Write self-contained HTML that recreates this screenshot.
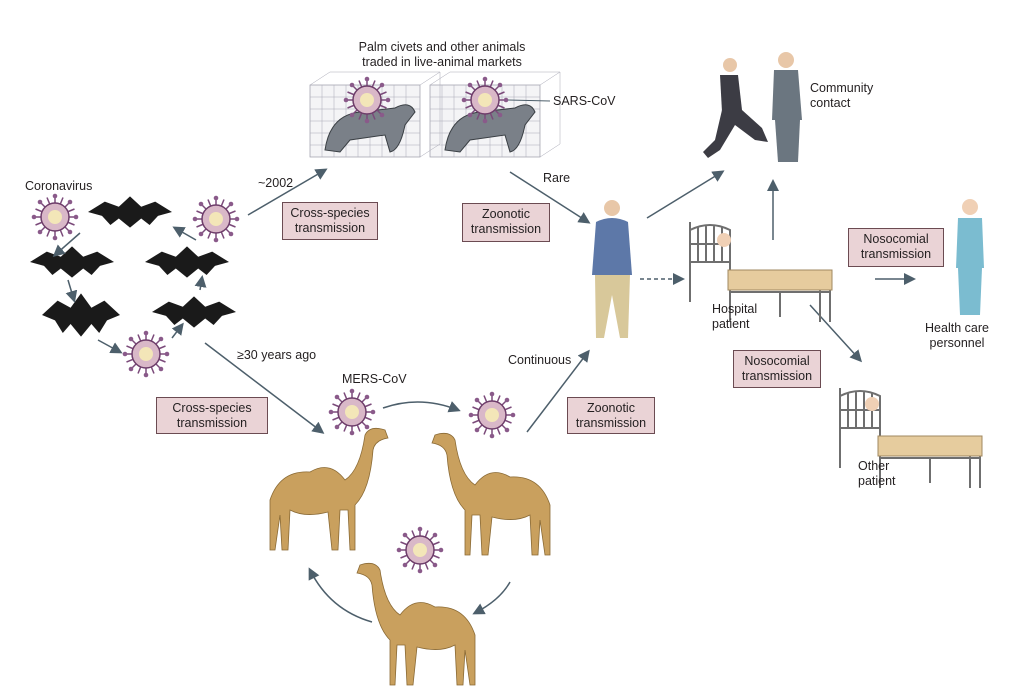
<!DOCTYPE html>
<html><head><meta charset="utf-8"><style>
html,body{margin:0;padding:0;background:#fff;}
body{width:1024px;height:698px;position:relative;overflow:hidden;font-family:"Liberation Sans",sans-serif;color:#231f20;}
.t{position:absolute;font-size:12.5px;line-height:15px;}
.b{position:absolute;background:#ead3d6;border:1px solid #6b4b52;font-size:12.5px;line-height:15px;text-align:center;box-sizing:border-box;padding-top:3px;}
svg{position:absolute;left:0;top:0;}
</style></head><body>
<svg width="1024" height="698" viewBox="0 0 1024 698">
<defs>
<marker id="a" markerWidth="8" markerHeight="8" refX="6" refY="4" orient="auto"><path d="M0,0 L8,4 L0,8 Z" fill="#4d5f6b"/></marker>
<g id="v">
<g stroke="#7b4a7a" stroke-width="1.5">
<line x1="0" y1="-21" x2="0" y2="21"/><line x1="-21" y1="0" x2="21" y2="0"/>
<line x1="-15" y1="-15" x2="15" y2="15"/><line x1="-15" y1="15" x2="15" y2="-15"/>
<line x1="-8" y1="-19.5" x2="8" y2="19.5"/><line x1="8" y1="-19.5" x2="-8" y2="19.5"/>
<line x1="-19.5" y1="-8" x2="19.5" y2="8"/><line x1="-19.5" y1="8" x2="19.5" y2="-8"/>
</g>
<g fill="#8a5a8a"><circle cx="0" cy="-21" r="2.3"/><circle cx="0" cy="21" r="2.3"/><circle cx="-21" cy="0" r="2.3"/><circle cx="21" cy="0" r="2.3"/><circle cx="15" cy="15" r="2.3"/><circle cx="-15" cy="-15" r="2.3"/><circle cx="15" cy="-15" r="2.3"/><circle cx="-15" cy="15" r="2.3"/></g>
<circle r="14" fill="#d9b8c8" stroke="#6d3d6a" stroke-width="1.5"/>
<circle r="7" fill="#f3e6b8"/>
</g>
<path id="bat" d="M0,0 L12,-8 L22,-4 L30,-12 L38,-4 L48,-8 L60,0 L50,3 L44,10 L38,5 L30,12 L22,5 L16,10 L10,3 Z" fill="#1a1a1a"/>
<g id="camel" fill="#c9a05e" stroke="#8a6a35" stroke-width="0.8">
<path d="M0,40 Q10,10 40,12 Q60,0 75,20 Q90,10 95,-25 Q100,-35 115,-30 L118,-22 Q105,-20 103,-10 Q100,30 85,45 L85,90 L80,90 L78,50 L70,50 L68,90 L62,90 L58,52 Q35,58 20,50 L18,90 L12,90 L10,55 L5,90 L0,90 Z"/>
</g>
<g id="bed">
<g fill="none" stroke="#6f6f6f" stroke-width="2">
<path d="M0,0 L0,80 M0,8 Q20,-2 40,8 L40,80 M0,22 L40,22 M0,40 L40,40 M8,5 L8,40 M16,3 L16,40 M24,3 L24,40 M32,5 L32,40"/>
<path d="M40,70 L140,70 M140,55 L140,100 M130,60 L130,100 M40,70 L40,100 M90,70 L90,95"/>
</g>
<rect x="38" y="48" width="104" height="20" fill="#e6cc9e" stroke="#a08860"/>
</g>
</defs>

<!-- cages -->
<g stroke="#9a9aa8" stroke-width="0.7" fill="#f4f4f6">
<rect x="310" y="85" width="110" height="72"/><rect x="430" y="85" width="110" height="72"/>
</g>
<g stroke="#a8a8b5" stroke-width="0.5" fill="none">
<path d="M310,85 L330,72 L440,72 L420,85 M430,85 L450,72 L560,72 L540,85 M420,157 L440,144 L440,72 M540,157 L560,144 L560,72"/>
<path d="M310,97H420M310,109H420M310,121H420M310,133H420M310,145H420M430,97H540M430,109H540M430,121H540M430,133H540M430,145H540"/>
<path d="M322,85V157M334,85V157M346,85V157M358,85V157M370,85V157M382,85V157M394,85V157M406,85V157M442,85V157M454,85V157M466,85V157M478,85V157M490,85V157M502,85V157M514,85V157M526,85V157"/>
</g>
<path d="M325,150 Q330,115 360,112 L395,108 Q410,100 415,112 L405,125 Q400,150 390,152 L385,135 L350,140 L340,152 Z" fill="#7a8088" stroke="#3a3f44"/>
<path d="M445,150 Q450,115 480,112 L515,108 Q530,100 535,112 L525,125 Q520,150 510,152 L505,135 L470,140 L460,152 Z" fill="#7a8088" stroke="#3a3f44"/>
<use href="#v" x="367" y="100"/><use href="#v" x="485" y="100"/>
<line x1="508" y1="100" x2="550" y2="101" stroke="#4d5f6b"/>

<!-- bats & viruses -->
<use href="#v" x="55" y="217"/><use href="#v" x="216" y="219"/><use href="#v" x="146" y="354"/>
<g transform="translate(88,212) scale(1.4,1.3)"><use href="#bat"/></g>
<g transform="translate(30,262) scale(1.4,1.3)"><use href="#bat"/></g>
<g transform="translate(145,262) scale(1.4,1.3)"><use href="#bat"/></g>
<g transform="translate(42,315) scale(1.3,1.8)"><use href="#bat"/></g>
<g transform="translate(152,312) scale(1.4,1.3)"><use href="#bat"/></g>
<g stroke="#4d5f6b" stroke-width="1.5" fill="none" marker-end="url(#a)">
<path d="M80,233 L55,255"/><path d="M196,240 L175,228"/><path d="M68,280 L74,300"/><path d="M98,340 L120,352"/><path d="M172,338 L182,325"/><path d="M200,290 L202,278"/>
<path d="M248,215 L325,170"/><path d="M510,172 L588,222"/><path d="M647,218 L722,172"/>
<path d="M773,240 L773,182"/><path d="M875,279 L913,279"/><path d="M810,305 L860,360"/>
<path d="M640,279 L682,279" stroke-dasharray="4,3"/>
<path d="M205,343 L322,432"/><path d="M383,408 Q420,395 458,410"/><path d="M527,432 L588,352"/>
<path d="M510,582 Q500,600 475,613"/><path d="M372,622 Q330,610 310,570"/>
</g>

<!-- camels -->
<use href="#v" x="352" y="412"/><use href="#v" x="492" y="415"/><use href="#v" x="420" y="550"/>
<use href="#camel" x="270" y="460"/>
<g transform="translate(550,465) scale(-1,1)"><use href="#camel"/></g>
<g transform="translate(475,595) scale(-1,1)"><use href="#camel"/></g>

<!-- people -->
<g>
<circle cx="612" cy="208" r="8" fill="#e8c7a8"/>
<path d="M596,222 Q612,214 628,222 L632,275 L592,275 Z" fill="#5d78a8"/>
<path d="M595,275 L630,275 L628,338 L620,338 L612,295 L604,338 L596,338 Z" fill="#d8c89a"/>
<circle cx="730" cy="65" r="7" fill="#e8c7a8"/>
<path d="M720,75 L738,75 L742,110 L722,112 Z" fill="#3c3c44"/>
<path d="M722,110 L742,110 L762,128 L768,142 L755,140 L735,125 L720,150 L708,158 L703,152 L715,140 Z" fill="#3c3c44"/>
<circle cx="786" cy="60" r="8" fill="#e8c7a8"/>
<path d="M774,70 L798,70 L802,120 L772,120 Z" fill="#6b7680"/>
<path d="M775,120 L800,120 L798,162 L778,162 Z" fill="#6b7680"/>
<circle cx="970" cy="207" r="8" fill="#f0d0b5"/>
<path d="M958,218 L982,218 L984,268 L956,268 Z" fill="#7bbcd0"/>
<path d="M958,268 L982,268 L980,315 L960,315 Z" fill="#7bbcd0"/>
</g>
<!-- beds -->
<use href="#bed" x="690" y="222"/>
<circle cx="724" cy="240" r="7" fill="#f0d0b5"/>
<use href="#bed" x="840" y="388"/>
<circle cx="872" cy="404" r="7" fill="#f0d0b5"/>
</svg>

<div class="t" style="left:352px;top:40px;width:180px;text-align:center;">Palm civets and other animals traded in live-animal markets</div>
<div class="t" style="left:553px;top:94px;">SARS-CoV</div>
<div class="t" style="left:25px;top:179px;">Coronavirus</div>
<div class="t" style="left:258px;top:176px;">~2002</div>
<div class="b" style="left:282px;top:202px;width:96px;height:38px;">Cross-species transmission</div>
<div class="t" style="left:543px;top:171px;">Rare</div>
<div class="b" style="left:462px;top:203px;width:88px;height:39px;">Zoonotic transmission</div>
<div class="t" style="left:810px;top:81px;">Community<br>contact</div>
<div class="b" style="left:848px;top:228px;width:96px;height:39px;">Nosocomial transmission</div>
<div class="t" style="left:712px;top:302px;">Hospital<br>patient</div>
<div class="t" style="left:912px;top:321px;width:90px;text-align:center;">Health care personnel</div>
<div class="b" style="left:733px;top:350px;width:88px;height:38px;">Nosocomial transmission</div>
<div class="t" style="left:858px;top:459px;">Other<br>patient</div>
<div class="t" style="left:237px;top:348px;">≥30 years ago</div>
<div class="t" style="left:342px;top:372px;">MERS-CoV</div>
<div class="t" style="left:508px;top:353px;">Continuous</div>
<div class="b" style="left:156px;top:397px;width:112px;height:37px;">Cross-species transmission</div>
<div class="b" style="left:567px;top:397px;width:88px;height:37px;">Zoonotic transmission</div>
</body></html>
